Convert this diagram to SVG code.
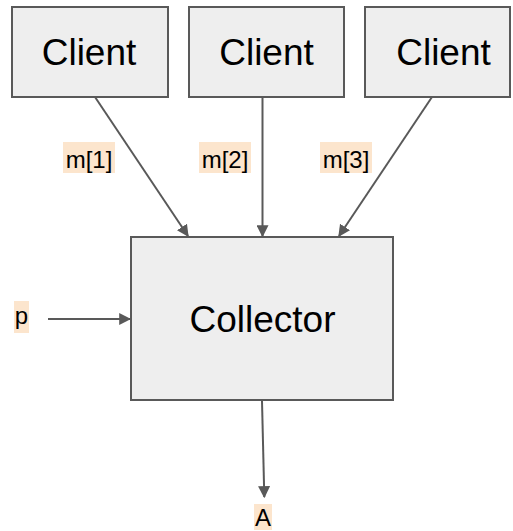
<svg xmlns="http://www.w3.org/2000/svg" width="513" height="531" viewBox="0 0 513 531">
  <style>
    .box { fill: #eeeeee; stroke: #595959; stroke-width: 2; }
    .big { font-family: "Liberation Sans", Arial, sans-serif; font-size: 37px; fill: #000; text-anchor: middle; }
    .lbl { font-family: "Liberation Sans", Arial, sans-serif; font-size: 24px; fill: #000; text-anchor: middle; }
    .hl { fill: #fce5cd; }
    .edge { stroke: #595959; stroke-width: 2; fill: none; marker-end: url(#arrow); }
  </style>
  <defs>
    <marker id="arrow" viewBox="0 0 10 10" refX="9" refY="5" markerWidth="6" markerHeight="6" orient="auto" markerUnits="strokeWidth">
      <path d="M0,0 L10,5 L0,10 z" fill="#595959"/>
    </marker>
  </defs>
  <rect width="513" height="531" fill="#ffffff"/>

  <g id="client1">
    <rect class="box" x="12" y="7" width="156" height="90"/>
    <text class="big" x="89" y="65">Client</text>
  </g>
  <g id="client2">
    <rect class="box" x="189" y="7" width="155" height="90"/>
    <text class="big" x="266.5" y="65">Client</text>
  </g>
  <g id="client3">
    <rect class="box" x="365" y="7" width="145" height="90"/>
    <text class="big" x="443.5" y="65">Client</text>
  </g>
  <g id="collector">
    <rect class="box" x="131" y="237" width="262" height="163"/>
    <text class="big" x="262.5" y="332">Collector</text>
  </g>

  <g id="connectors">
    <line class="edge" x1="95" y1="97" x2="188" y2="236"/>
    <line class="edge" x1="262.5" y1="97" x2="262.5" y2="236"/>
    <line class="edge" x1="432" y1="97" x2="339" y2="236"/>
    <line class="edge" x1="48" y1="319" x2="130" y2="319"/>
    <line class="edge" x1="262" y1="401" x2="264.3" y2="497"/>
  </g>

  <g id="label-m1">
    <rect class="hl" x="63" y="142" width="52" height="31"/>
    <text class="lbl" x="89" y="168">m[1]</text>
  </g>
  <g id="label-m2">
    <rect class="hl" x="199" y="142" width="52" height="31"/>
    <text class="lbl" x="225" y="168">m[2]</text>
  </g>
  <g id="label-m3">
    <rect class="hl" x="320" y="142" width="52" height="31"/>
    <text class="lbl" x="346" y="168">m[3]</text>
  </g>
  <g id="label-p">
    <rect class="hl" x="14" y="301" width="15" height="32"/>
    <text class="lbl" x="21.5" y="324">p</text>
  </g>
  <g id="label-A">
    <rect class="hl" x="254" y="504" width="18" height="26"/>
    <text class="lbl" x="263" y="526">A</text>
  </g>
</svg>
